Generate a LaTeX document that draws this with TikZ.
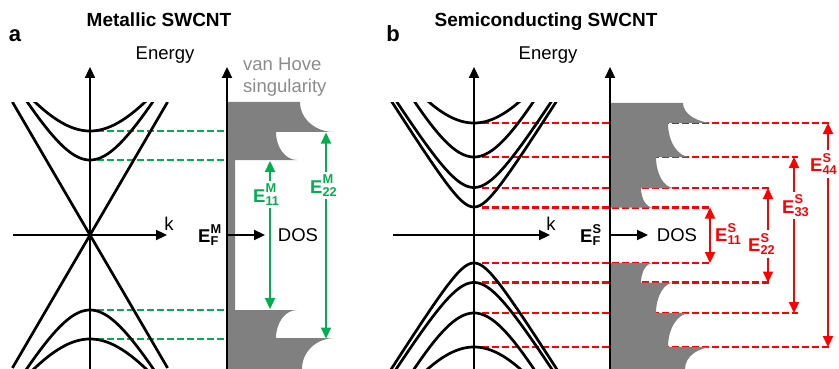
\documentclass[tikz,border=0pt]{standalone}
\usepackage{fontspec}
\setmainfont{Liberation Sans}
\usetikzlibrary{arrows.meta}
\definecolor{mgreen}{RGB}{0,176,80}
\definecolor{dosgray}{RGB}{128,128,128}
\definecolor{vhgray}{RGB}{140,140,140}
\newcommand\subfnt{\fontsize{12.8}{13}\selectfont\bfseries}
\newcommand\Elab[2]{\textbf{E}\makebox[0pt][l]{\raisebox{9.5pt}{\subfnt #1}}\raisebox{-3pt}{\subfnt #2}}
\begin{document}
\begin{tikzpicture}[x=1pt,y=-1pt,
  every node/.style={font=\fontsize{18.5}{22}\selectfont, inner sep=0pt},
  titlef/.style={font=\fontsize{19}{22}\selectfont\bfseries},
  letterf/.style={font=\fontsize{22}{24}\selectfont\bfseries},
  axis/.style={line width=2.3pt, arrows={-Triangle[length=11pt,width=10pt]}},
  band/.style={line width=2.7pt, line join=round},
  gdash/.style={mgreen, line width=2.5pt, dash pattern=on 7pt off 3pt},
  rdash/.style={red, line width=2.5pt, dash pattern=on 7pt off 3pt},
  garr/.style={mgreen, line width=2.2pt, arrows={Triangle[length=11pt,width=10pt]-Triangle[length=11pt,width=10pt]}},
  rarr/.style={red, line width=2.2pt, arrows={Triangle[length=11pt,width=10pt]-Triangle[length=11pt,width=10pt]}},
  elab/.style={fill=white, inner xsep=1.5pt, inner ysep=3pt, anchor=base west},
]
\useasboundingbox (0,0) rectangle (839,369);

% titles
\node[titlef, anchor=base] (ta) at (159,26.7) {Metallic SWCNT};
\node[titlef, anchor=base] (tb) at (546,26.7) {Semiconducting SWCNT};
\node[letterf, anchor=base] (la) at (15,41.5) {a};
\node[letterf, anchor=base] (lb) at (393,41.5) {b};

% dashed levels, panel a
\foreach \y/\n in {131/1,160/2,310/3,339/4}{
  \coordinate (ga\n) at (97,\y);
  \coordinate (gb\n) at (225,\y);
  \draw[gdash] (ga\n) -- (gb\n);
}
% dashed levels, panel b
\foreach \y/\e/\n in {123/831/1,157/798/2,188/770/3,207.5/712/4,263/712/5,282.5/770/6,313/798/7,347/831/8}{
  \coordinate (ra\n) at (482,\y);
  \coordinate (rb\n) at (\e,\y);
  \draw[rdash] (ra\n) -- (rb\n);
}

% DOS, panel a
\fill[dosgray] (227,102) -- (300,102)
  .. controls (300,118.6) and (315.2,132) .. (334,132)
  -- (276,132) .. controls (276,147.5) and (285.4,160) .. (297,160)
  -- (235,160) -- (235,310) -- (297,310)
  .. controls (285.4,310) and (276,322.5) .. (276,338)
  -- (335,338) .. controls (316.8,338) and (302,351.4) .. (302,369)
  -- (227,369) -- cycle;

% DOS, panel b
\fill[dosgray] (610,103) -- (683,103)
  .. controls (683,114) and (697.3,123) .. (715,123)
  -- (668,123) .. controls (668,141.8) and (677.9,157) .. (690,157)
  -- (656,157) .. controls (656,174.1) and (664.1,188) .. (674,188)
  -- (641,188) .. controls (641,198.8) and (646.4,207.5) .. (653,207.5)
  -- (610,207.5) -- cycle;
\fill[dosgray] (610,263) -- (653,263)
  .. controls (646.4,263) and (641,271.7) .. (641,282.5)
  -- (674,282.5) .. controls (664.1,282.5) and (656,296.2) .. (656,313)
  -- (690,313) .. controls (677.9,313) and (668,328.2) .. (668,347)
  -- (715,347) .. controls (697.3,347) and (685,356.9) .. (685,369)
  -- (610,369) -- cycle;

% bands, panel a
\begin{scope}
\clip (0,102.5) rectangle (200,369);
\coordinate (l1a) at (12.4,102); \coordinate (l1b) at (167.6,368);
\coordinate (l2a) at (167.6,102); \coordinate (l2b) at (12.4,368);
\draw[band] (l1a) -- (l1b);
\draw[band] (l2a) -- (l2b);
\foreach \d/\s/\m in {10.4/0.1505/58, 7.5/0.1752/65}{
  \draw[band] plot[domain=-\m:\m,samples=90,smooth] ({90+\x},{235-10*sqrt(\d*\d+(\s*(\x))*(\s*(\x)))});
  \draw[band] plot[domain=-\m:\m,samples=90,smooth] ({90+\x},{235+10*sqrt(\d*\d+(\s*(\x))*(\s*(\x)))});
}
\end{scope}

% bands, panel b
\begin{scope}
\clip (385,102.5) rectangle (600,369);
\foreach \d/\s/\m in {2.8/0.1585/86, 4.75/0.1612/81, 7.8/0.182/63, 11.2/0.159/49}{
  \draw[band] plot[domain=-\m:\m,samples=100,smooth] ({474+\x},{235-10*sqrt(\d*\d+(\s*(\x))*(\s*(\x)))});
  \draw[band] plot[domain=-\m:\m,samples=100,smooth] ({474+\x},{235+10*sqrt(\d*\d+(\s*(\x))*(\s*(\x)))});
}
\end{scope}

% axes, panel a
\coordinate (eA0) at (90,369); \coordinate (eA1) at (90,67);
\coordinate (kA0) at (13,235); \coordinate (kA1) at (167,235);
\coordinate (dA0) at (227,369); \coordinate (dA1) at (227,67);
\coordinate (fA0) at (227,235); \coordinate (fA1) at (265,235);
\draw[axis] (eA0) -- (eA1);
\draw[axis] (kA0) -- (kA1);
\draw[axis] (dA0) -- (dA1);
\draw[axis] (fA0) -- (fA1);
% axes, panel b
\coordinate (eB0) at (474,369); \coordinate (eB1) at (474,67);
\coordinate (kB0) at (393,235); \coordinate (kB1) at (550,235);
\coordinate (dB0) at (610,369); \coordinate (dB1) at (610,67);
\coordinate (fB0) at (610,235); \coordinate (fB1) at (648,235);
\draw[axis] (eB0) -- (eB1);
\draw[axis] (kB0) -- (kB1);
\draw[axis] (dB0) -- (dB1);
\draw[axis] (fB0) -- (fB1);

% axis texts
\node[anchor=base] (enA) at (165,59.3) {Energy};
\node[anchor=base] (enB) at (548,59.3) {Energy};
\node[anchor=base] (kkA) at (169,230) {k};
\node[anchor=base] (kkB) at (551,230) {k};
\node[anchor=base] (dosA) at (298,241.7) {DOS};
\node[anchor=base] (dosB) at (677,241.7) {DOS};
\node[anchor=base west, text=vhgray] (vh1) at (243,71) {van Hove};
\node[anchor=base west, text=vhgray] (vh2) at (243,93) {singularity};
\node[anchor=base west] (efA) at (198,242.7) {\Elab{M}{F}};
\node[anchor=base west] (efB) at (580,242.7) {\Elab{S}{F}};

% green transitions
\coordinate (g11t) at (270,161); \coordinate (g11b) at (270,309);
\coordinate (g22t) at (326,132.5); \coordinate (g22b) at (326,338.5);
\draw[garr] (g11t) -- (g11b);
\draw[garr] (g22t) -- (g22b);
\node[elab, text=mgreen] (lg11) at (251.5,202) {\Elab{M}{11}};
\node[elab, text=mgreen] (lg22) at (308.5,193) {\Elab{M}{22}};

% red transitions
\coordinate (r11t) at (710,207.5); \coordinate (r11b) at (710,263);
\coordinate (r22t) at (768,188); \coordinate (r22b) at (768,282.5);
\coordinate (r33t) at (794,157); \coordinate (r33b) at (794,313);
\coordinate (r44t) at (828,123); \coordinate (r44b) at (828,347);
\draw[rarr] (r11t) -- (r11b);
\draw[rarr] (r22t) -- (r22b);
\draw[rarr] (r33t) -- (r33b);
\draw[rarr] (r44t) -- (r44b);
\node[elab, text=red] (lr11) at (713.5,241.7) {\Elab{S}{11}};
\node[elab, text=red] (lr22) at (746.5,251.7) {\Elab{S}{22}};
\node[elab, text=red] (lr33) at (780.5,213.3) {\Elab{S}{33}};
\node[elab, text=red] (lr44) at (808.5,171.7) {\Elab{S}{44}};
\end{tikzpicture}
\end{document}
